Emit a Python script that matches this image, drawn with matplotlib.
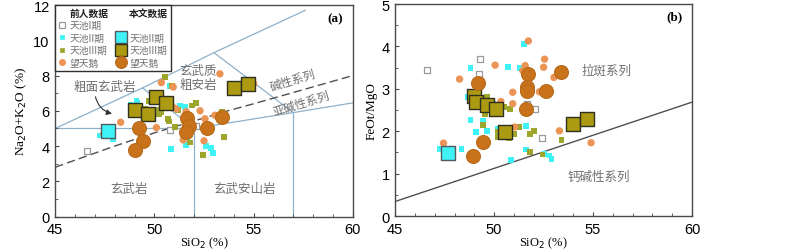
import matplotlib
matplotlib.use("Agg")
import matplotlib.pyplot as plt
from matplotlib.lines import Line2D
from matplotlib.patches import FancyArrowPatch
import numpy as np

CJK = ['Noto Sans CJK SC', 'DejaVu Sans']
plt.rcParams['font.family'] = ['Liberation Sans', 'DejaVu Sans']

# ---------------- Data: panel (a) TAS -----------------
# previous data (small symbols)
a_tc1_x = [46.6, 49.3, 50.8, 51.65, 52.1]
a_tc1_y = [3.7, 4.3, 4.9, 5.45, 5.15]
a_tc2_x = [48.8, 49.15, 48.9, 49.1, 50.8, 50.5, 50.9, 51.3, 51.55, 47.25, 47.9, 50.85, 51.6, 51.65, 52.6, 52.85, 52.95]
a_tc2_y = [6.35, 6.45, 6.1, 6.55, 7.4, 6.3, 6.25, 6.3, 6.2, 4.6, 4.4, 3.85, 4.05, 4.5, 4.0, 3.9, 3.6]
a_tc3_x = [49.55, 49.7, 50.55, 50.9, 50.1, 50.35, 50.7, 50.75, 51.05, 50.95, 51.2, 51.9, 52.1, 53.4, 53.5, 51.8, 52.45, 50.25]
a_tc3_y = [6.1, 6.55, 7.9, 7.4, 6.05, 5.95, 5.55, 5.4, 5.1, 6.15, 6.05, 6.3, 6.45, 5.95, 4.5, 4.2, 3.5, 5.8]
a_wte_x = [53.3, 50.35, 50.95, 48.3, 47.45, 50.1, 50.9, 51.1, 51.6, 52.3, 52.55, 53.05, 55.0, 51.45, 52.5]
a_wte_y = [8.1, 7.6, 7.35, 5.35, 4.7, 5.05, 6.25, 6.1, 5.95, 6.0, 5.55, 5.75, 7.55, 4.35, 4.3]
# this study (large symbols)
a_my2_x = [47.65]
a_my2_y = [4.85]
a_my3_x = [49.0, 49.7, 50.1, 50.6, 54.0, 54.7]
a_my3_y = [6.05, 5.8, 6.8, 6.45, 7.3, 7.55]
a_mywte_x = [49.2, 49.45, 49.0, 51.65, 51.75, 51.6, 52.65, 53.4]
a_mywte_y = [5.0, 4.3, 3.75, 5.6, 5.15, 4.8, 5.05, 5.65]

# ---------------- Data: panel (b) FeOt/MgO -----------------
b_tc1_x = [46.6, 49.3, 49.25, 51.65, 52.05, 52.4]
b_tc1_y = [3.45, 3.7, 3.35, 2.65, 2.53, 1.84]
b_tc2_x = [51.5, 48.8, 50.7, 51.3, 48.65, 49.95, 48.8, 49.45, 49.1, 49.65, 50.2, 47.25, 48.35, 50.85, 51.6, 51.6, 52.55, 52.8, 52.9]
b_tc2_y = [4.05, 3.5, 3.52, 3.5, 2.8, 2.65, 2.27, 2.25, 1.98, 2.0, 2.05, 1.58, 1.58, 1.33, 1.57, 2.12, 1.47, 1.43, 1.34]
b_tc3_x = [49.65, 49.55, 49.45, 50.5, 50.8, 50.2, 50.2, 50.75, 51.0, 51.25, 51.8, 52.0, 51.8, 52.45, 53.4, 50.4]
b_tc3_y = [2.8, 2.4, 2.15, 2.57, 2.53, 1.98, 1.86, 1.83, 1.93, 2.1, 1.94, 2.0, 1.51, 1.45, 1.79, 1.95]
b_wte_x = [51.73, 52.55, 50.05, 51.57, 52.5, 51.45, 53.02, 48.25, 52.29, 50.94, 50.34, 50.94, 51.54, 51.04, 53.3, 47.44, 54.9]
b_wte_y = [4.13, 3.7, 3.56, 3.55, 3.51, 3.43, 3.27, 3.23, 2.93, 2.92, 2.7, 2.65, 2.45, 2.1, 2.01, 1.72, 1.73]
b_my2_x = [47.65]
b_my2_y = [1.49]
b_my3_x = [49.0, 49.09, 49.66, 50.1, 50.56, 54.0, 54.7]
b_my3_y = [2.84, 2.69, 2.62, 2.53, 1.98, 2.18, 2.29]
b_mywte_x = [49.17, 51.7, 51.65, 51.65, 52.63, 53.38, 51.6, 49.46, 48.95]
b_mywte_y = [3.14, 3.35, 3.04, 2.96, 2.94, 3.39, 2.53, 1.75, 1.41]

# boundary lines
irv_x = [45, 48, 50, 53.7, 55, 60]
irv_y = [2.8, 4.0, 4.75, 6.0, 6.4, 8.0]
mi_x = [45, 60]
mi_y = [0.344, 2.687]

legend_labels = ['前人数据', '天池I期', '天池II期', '天池III期', '望天鹅',
                 '本文数据', '', '天池II期', '天池III期', '望天鹅']

# styles
C_CYAN = '#3FF2F5'
C_OLV_S = '#9DA52A'
C_OLV_L = '#AC9A12'
C_ORG_S = '#EB9455'
C_ORG_L = '#C8731C'
LINEC = '#8FB0C8'
GRAYTXT = '#707070'

styles = {
    'tc1': dict(marker='s', s=24, facecolor='white', edgecolor='#9A9A9A', linewidths=0.9),
    'tc2': dict(marker='s', s=17, facecolor=C_CYAN, edgecolor='none'),
    'tc3': dict(marker='s', s=17, facecolor=C_OLV_S, edgecolor='none'),
    'wte': dict(marker='o', s=28, facecolor=C_ORG_S, edgecolor='none'),
    'my2': dict(marker='s', s=90, facecolor=C_CYAN, edgecolor='#505A60', linewidths=1.0),
    'my3': dict(marker='s', s=90, facecolor=C_OLV_L, edgecolor='#303020', linewidths=1.0),
    'mywte': dict(marker='o', s=100, facecolor=C_ORG_L, edgecolor='#B86A1A', linewidths=0.8),
}

fig = plt.figure(figsize=(8.0, 2.53), dpi=100)
axa = fig.add_axes([0.069, 0.140, 0.372, 0.836])
axb = fig.add_axes([0.494, 0.142, 0.371, 0.838])

def style_axis(ax):
    for sp in ax.spines.values():
        sp.set_color('#4A4A4A')
        sp.set_linewidth(1.0)
    ax.tick_params(which='both', direction='in', color='#4A4A4A', labelsize=10.5)
    ax.tick_params(axis='x', which='both', pad=4)
    ax.tick_params(axis='y', which='both', pad=4)
    ax.tick_params(which='major', length=3)
    ax.tick_params(which='minor', length=2)

# ---------- panel a ----------
ax = axa
ax.set_xlim(45, 60)
ax.set_ylim(0, 12)
ax.set_xticks([45, 50, 55, 60])
ax.set_xticks(np.arange(45, 61, 1), minor=True)
ax.set_yticks([0, 2, 4, 6, 8, 10, 12])
ax.set_yticks(np.arange(0, 13, 1), minor=True)
style_axis(ax)

tas_lines = [
    ([45, 52], [5, 5]),
    ([52, 52], [0, 5]),
    ([57, 57], [0, 5.9]),
    ([52, 57, 63], [5, 5.9, 7.0]),
    ([45, 49.4, 53, 57.6], [5, 7.3, 9.3, 11.7]),
    ([49.4, 52], [7.3, 5]),
    ([53, 57], [9.3, 5.9]),
]
for xs, ys in tas_lines:
    ax.plot(xs, ys, color=LINEC, lw=0.9, zorder=1)
ax.plot(irv_x, irv_y, color='#505050', lw=1.0, ls=(0, (6, 3)), zorder=1)

ax.scatter(a_tc1_x, a_tc1_y, zorder=3, **styles['tc1'])
ax.scatter(a_tc2_x, a_tc2_y, zorder=3, **styles['tc2'])
ax.scatter(a_tc3_x, a_tc3_y, zorder=3, **styles['tc3'])
ax.scatter(a_wte_x, a_wte_y, zorder=3, **styles['wte'])
ax.scatter(a_my2_x, a_my2_y, zorder=4, **styles['my2'])
ax.scatter(a_my3_x, a_my3_y, zorder=4, **styles['my3'])
ax.scatter(a_mywte_x, a_mywte_y, zorder=4, **styles['mywte'])

tkw = dict(color=GRAYTXT, fontsize=9, family=CJK, ha='center', va='center')
ax.text(47.5, 7.4, '粗面玄武岩', **tkw)
ax.text(52.2, 7.9, '玄武质\n粗安岩', linespacing=1.1, **tkw)
ax.text(57.0, 7.75, '碱性系列', rotation=17, **{**tkw, 'fontsize': 8.5})
ax.text(57.4, 6.45, '亚碱性系列', rotation=17, **{**tkw, 'fontsize': 8.5})
ax.text(48.7, 1.6, '玄武岩', **tkw)
ax.text(54.55, 1.6, '玄武安山岩', **tkw)
ax.text(59.1, 11.25, '(a)', fontsize=9.5, fontweight='bold', family=['Liberation Serif'], ha='center', va='center')
arr = FancyArrowPatch((47.0, 6.95), (48.0, 5.8), connectionstyle='arc3,rad=0.35',
                      arrowstyle='-|>', mutation_scale=8, color='#303030', lw=0.8)
ax.add_patch(arr)

ax.set_xlabel('SiO$_2$ (%)', family=['Liberation Serif'], fontsize=9, labelpad=-1)
ax.set_ylabel('Na$_2$O+K$_2$O (%)', family=['Liberation Serif'], fontsize=9.5, labelpad=3)

# legend
def proxy(key):
    st = styles[key]
    ms = np.sqrt(st['s'])
    return Line2D([], [], ls='none', marker=st['marker'], markersize=ms * 0.85,
                  markerfacecolor=st['facecolor'],
                  markeredgecolor=st['edgecolor'] if st['edgecolor'] != 'none' else st['facecolor'],
                  markeredgewidth=st.get('linewidths', 0.5))
blank = Line2D([], [], ls='none', marker=None)
handles = [blank, proxy('tc1'), proxy('tc2'), proxy('tc3'), proxy('wte'),
           blank, blank, proxy('my2'), proxy('my3'), proxy('mywte')]
leg = ax.legend(handles, legend_labels, ncol=2, loc='upper left', bbox_to_anchor=(0.0, 1.0),
                prop={'family': CJK, 'size': 7}, frameon=True, fancybox=False,
                edgecolor='#303030', framealpha=1, borderpad=0.3, labelspacing=0.25,
                handlelength=0.8, handletextpad=0.4, columnspacing=0.9, borderaxespad=0.0)
leg.get_frame().set_linewidth(1.0)
texts = leg.get_texts()
for i, t in enumerate(texts):
    if i in (0, 5):
        t.set_fontweight('bold')
        t.set_color('#202020')
    else:
        t.set_color(GRAYTXT)
leg.set_zorder(10)

# ---------- panel b ----------
ax = axb
ax.set_xlim(45, 60)
ax.set_ylim(0, 5)
ax.set_xticks([45, 50, 55, 60])
ax.set_xticks(np.arange(45, 61, 1), minor=True)
ax.set_yticks([0, 1, 2, 3, 4, 5])
ax.set_yticks(np.arange(0, 5.01, 0.5), minor=True)
style_axis(ax)
ax.plot(mi_x, mi_y, color='#505050', lw=1.0, zorder=1)

ax.scatter(b_tc1_x, b_tc1_y, zorder=3, **styles['tc1'])
ax.scatter(b_tc2_x, b_tc2_y, zorder=3, **styles['tc2'])
ax.scatter(b_tc3_x, b_tc3_y, zorder=3, **styles['tc3'])
ax.scatter(b_wte_x, b_wte_y, zorder=3, **styles['wte'])
ax.scatter(b_my2_x, b_my2_y, zorder=4, **styles['my2'])
ax.scatter(b_my3_x, b_my3_y, zorder=4, **styles['my3'])
ax.scatter(b_mywte_x, b_mywte_y, zorder=4, **styles['mywte'])

ax.text(55.7, 3.43, '拉斑系列', **tkw)
ax.text(55.3, 0.93, '钙碱性系列', **tkw)
ax.text(59.1, 4.7, '(b)', fontsize=9.5, fontweight='bold', family=['Liberation Serif'], ha='center', va='center')
ax.set_xlabel('SiO$_2$ (%)', family=['Liberation Serif'], fontsize=9, labelpad=-1)
ax.set_ylabel('FeOt/MgO', family=['Liberation Serif'], fontsize=9.5, labelpad=3)

fig.savefig('out.png', dpi=100)
